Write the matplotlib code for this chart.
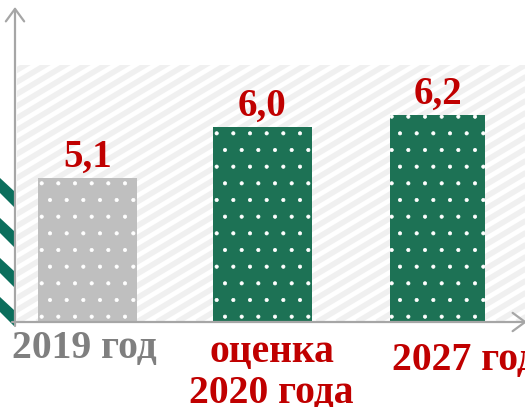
import matplotlib
matplotlib.use("Agg")
import matplotlib.pyplot as plt
from matplotlib.patches import FancyArrowPatch, Polygon
import numpy as np

# ---- data ----
categories = ["2019 год", "оценка\n2020 года", "2027 год"]
values = [5.1, 6.0, 6.2]
value_labels = ["5,1", "6,0", "6,2"]
bar_colors = ["#bfbfbf", "#1d7255", "#1d7255"]
label_colors = ["#7f7f7f", "#c00000", "#c00000"]

W, H = 525, 407
DPI = 100
fig = plt.figure(figsize=(W / DPI, H / DPI), dpi=DPI)
fig.patch.set_facecolor("white")
plt.rcParams["font.family"] = ["Liberation Serif", "DejaVu Serif"]
plt.rcParams["hatch.linewidth"] = 0.5


def fx(x):
    return x / W


def fy(y):
    return 1 - y / H


# ---- striped background panel ----
bg = fig.add_axes([fx(17), fy(322), fx(525) - fx(17), fy(65) - fy(322)])
bg.set_xlim(0, 508)
bg.set_ylim(0, 257)
bg.axis("off")
slope = 0.6
for x0 in np.arange(-500, 520, 20):
    xs = np.array([x0, x0 + 600])
    bg.plot(xs, slope * (xs - x0), color="#f0f0f0", lw=4.0,
            solid_capstyle="butt", clip_on=True)

# ---- chevron decorations on the left ----
for t in [178, 218, 258, 297]:
    pts = [(0, t), (14, t + 13), (14, t + 29), (0, t + 15)]
    fig.add_artist(Polygon([(fx(a), fy(b)) for a, b in pts], closed=True,
                           transform=fig.transFigure, facecolor="#0b6e5c",
                           edgecolor="none"))

# ---- main axes ----
ax = fig.add_axes([fx(15), fy(322), fx(525) - fx(15), fy(8) - fy(322)])
ax.patch.set_alpha(0)
x = np.arange(len(categories))
ax.set_xlim(-0.414, 2.5)
ax.set_ylim(2.56, 8.09)
widths = [0.566, 0.566, 0.54]
bars = ax.bar(x, values, width=widths, color=bar_colors, edgecolor="white",
              linewidth=0, hatch=".", zorder=2)
ax.axis("off")

for i, (v, t) in enumerate(zip(values, value_labels)):
    ax.annotate(t, xy=(x[i], v), xytext=(0, 8), textcoords="offset points",
                ha="center", va="baseline", fontsize=28, fontweight="bold",
                color="#c00000")

# category labels (below axis): (dx px, [baseline offsets px])
cat_layout = [(-3, [36]), (9, [40, 81]), (27, [48])]
px2pt = 72 / DPI
for i, cat in enumerate(categories):
    dx, offs = cat_layout[i]
    for line, off in zip(cat.split("\n"), offs):
        ax.annotate(line, xy=(x[i], 2.56), xytext=(dx * px2pt, -off * px2pt),
                    textcoords="offset points", ha="center", va="baseline",
                    fontsize=28.5, fontweight="bold", color=label_colors[i],
                    annotation_clip=False)

# ---- axis arrows ----
arrow_kw = dict(transform=fig.transFigure,
                arrowstyle="->,head_length=0.45,head_width=0.33",
                mutation_scale=20, color="#a6a6a6", lw=1.6, shrinkA=0, shrinkB=0)
fig.add_artist(FancyArrowPatch((fx(15), fy(326)), (fx(15), fy(7)), **arrow_kw))
fig.add_artist(FancyArrowPatch((fx(12), fy(322)), (fx(527), fy(322)), **arrow_kw))

fig.savefig("out.png", dpi=DPI, facecolor="white")
